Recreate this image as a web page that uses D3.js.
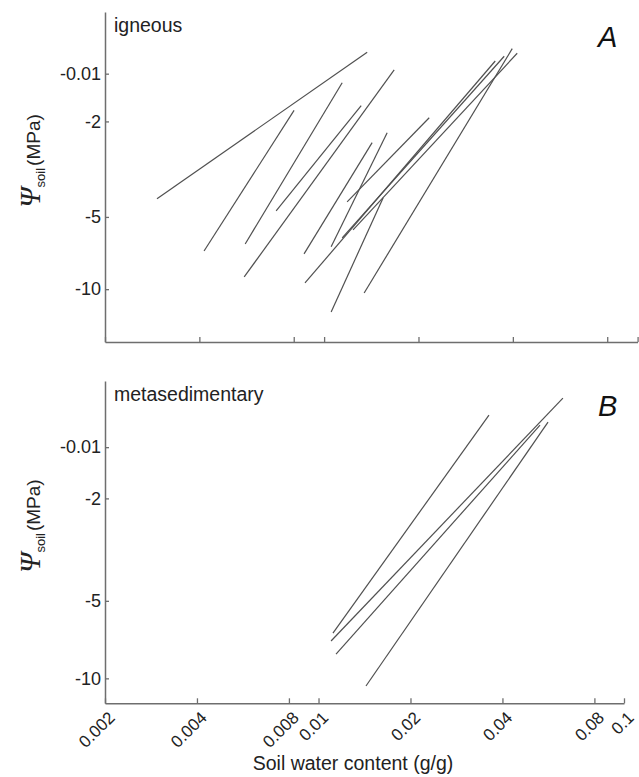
<!DOCTYPE html>
<html>
<head>
<meta charset="utf-8">
<script src="https://cdn.jsdelivr.net/npm/d3@7"></script>
<style>
  body { margin: 0; background: #fff; }
  svg { display: block; font-family: "Liberation Sans", Arial, sans-serif; }
</style>
</head>
<body>
<svg id="chart"></svg>
<script>
// soil water content (g/g) at the two ends of each retention line
const igneousWater = [
  [0.00293, 0.01372], [0.00414, 0.00802], [0.00560, 0.01142], [0.00556, 0.01673],
  [0.00703, 0.01313], [0.00863, 0.01423], [0.01053, 0.01589], [0.01184, 0.02164],
  [0.01053, 0.01543], [0.00869, 0.03515], [0.01142, 0.03754], [0.01237, 0.04130],
  [0.01342, 0.03982]
]
// soil water potential (MPa) at the same ends
const igneousPsi = [
  [-4.20, -1.03], [-6.93, -1.80], [-6.48, -1.38], [-8.89, -1.22],
  [-4.72, -1.72], [-7.13, -2.45], [-6.66, -2.23], [-4.33, -1.93],
  [-12.44, -4.16], [-9.42, -1.12], [-6.11, -1.07], [-5.66, -1.04],
  [-10.37, -0.995]
]
const metaWater = [[0.01115, 0.03614], [0.01099, 0.0631], [0.01141, 0.0531], [0.0143, 0.0564]]
const metaPsi = [[-6.67, -0.95], [-7.16, -0.816], [-8.05, -1.039], [-10.71, -1.011]]

const xTicks = [0.002, 0.004, 0.008, 0.01, 0.02, 0.04, 0.08, 0.1]
const xTickLabels = ['0.002', '0.004', '0.008', '0.01', '0.02', '0.04', '0.08', '0.1']
const yTicks = [-1.265, -2, -5, -10]
const yTickLabels = ['-0.01', '-2', '-5', '-10']

const width = 639
const height = 777
const svg = d3.select('#chart').attr('width', width).attr('height', height)

const axisColor = '#6e6e6e'
const lineColor = '#505050'

function drawPanel(opt){
    let xScale = d3.scaleLog().domain([0.002, 0.1]).range([105, opt.right])
    let yScale = d3.scaleLog().domain(opt.yDomain).range([opt.top, opt.bottom])
    let g = svg.append('g')

    // x axis, ticks pointing inwards
    let xAxis = d3.axisBottom(xScale)
        .tickValues(xTicks)
        .tickSizeInner(-5)
        .tickSizeOuter(0)
        .tickFormat('')
    let gx = g.append('g')
        .attr('transform', 'translate(0,' + opt.bottom + ')')
        .call(xAxis)
    gx.select('.domain').attr('stroke', axisColor).attr('stroke-width', 1.5)
    gx.selectAll('.tick line').attr('stroke', axisColor).attr('stroke-width', 1.3)

    if (opt.labels) {
        gx.selectAll('.tick').append('text')
            .text((d, i) => xTickLabels[i])
            .attr('fill', '#222')
            .attr('font-size', 17)
            .attr('text-anchor', 'end')
            .attr('transform', 'translate(2,7) rotate(-45)')
            .attr('dy', '0.7em')
    }

    let yAxis = d3.axisLeft(yScale)
        .tickValues(yTicks)
        .tickSizeInner(-4)
        .tickSizeOuter(0)
        .tickPadding(4)
        .tickFormat((d, i) => yTickLabels[i])
    let gy = g.append('g')
        .attr('transform', 'translate(105,0)')
        .call(yAxis)
    gy.select('.domain').attr('stroke', axisColor).attr('stroke-width', 1.5)
    gy.selectAll('.tick line').attr('stroke', axisColor).attr('stroke-width', 1.3)
    gy.selectAll('.tick text')
        .attr('fill', '#222')
        .attr('font-size', 18)
        .attr('font-family', '"Liberation Sans", Arial, sans-serif')

    // y axis title
    let cy = (opt.top + opt.bottom) / 2 - 16
    let title = g.append('text')
        .attr('transform', 'translate(40,' + cy + ') rotate(-90)')
        .attr('text-anchor', 'middle')
        .attr('fill', '#222')
        .attr('font-size', 19)
    title.append('tspan').text('\u03A8').attr('font-family', '"Liberation Serif", serif').attr('font-style', 'italic').attr('font-size', 29)
    title.append('tspan').text('soil').attr('font-size', 13).attr('dy', 5)
    title.append('tspan').text('(MPa)').attr('dy', -5).attr('dx', 2)

    g.append('text')
        .attr('x', 114)
        .attr('y', opt.top + 20)
        .attr('fill', '#222')
        .attr('font-size', 19.5)
        .text(opt.name)

    g.append('text')
        .attr('x', 598)
        .attr('y', opt.top + 35)
        .attr('fill', '#111')
        .attr('font-size', 29)
        .attr('font-style', 'italic')
        .text(opt.letter)

    g.selectAll('line.curve')
        .data(opt.water)
        .enter()
        .append('line')
        .attr('class', 'curve')
        .attr('x1', d => xScale(d[0]))
        .attr('x2', d => xScale(d[1]))
        .attr('y1', (d, i) => yScale(opt.psi[i][0]))
        .attr('y2', (d, i) => yScale(opt.psi[i][1]))
        .attr('stroke', lineColor)
        .attr('stroke-width', 1.2)
}

drawPanel({ top: 12, bottom: 342, right: 637.6, yDomain: [-0.7, -16.6],
            water: igneousWater, psi: igneousPsi, name: 'igneous', letter: 'A', labels: false })
drawPanel({ top: 381, bottom: 703.3, right: 624, yDomain: [-0.7, -12.5],
            water: metaWater, psi: metaPsi, name: 'metasedimentary', letter: 'B', labels: true })

svg.append('text')
    .attr('x', 353)
    .attr('y', 770)
    .attr('text-anchor', 'middle')
    .attr('fill', '#222')
    .attr('font-size', 19.5)
    .text('Soil water content (g/g)')
</script>
</body>
</html>
